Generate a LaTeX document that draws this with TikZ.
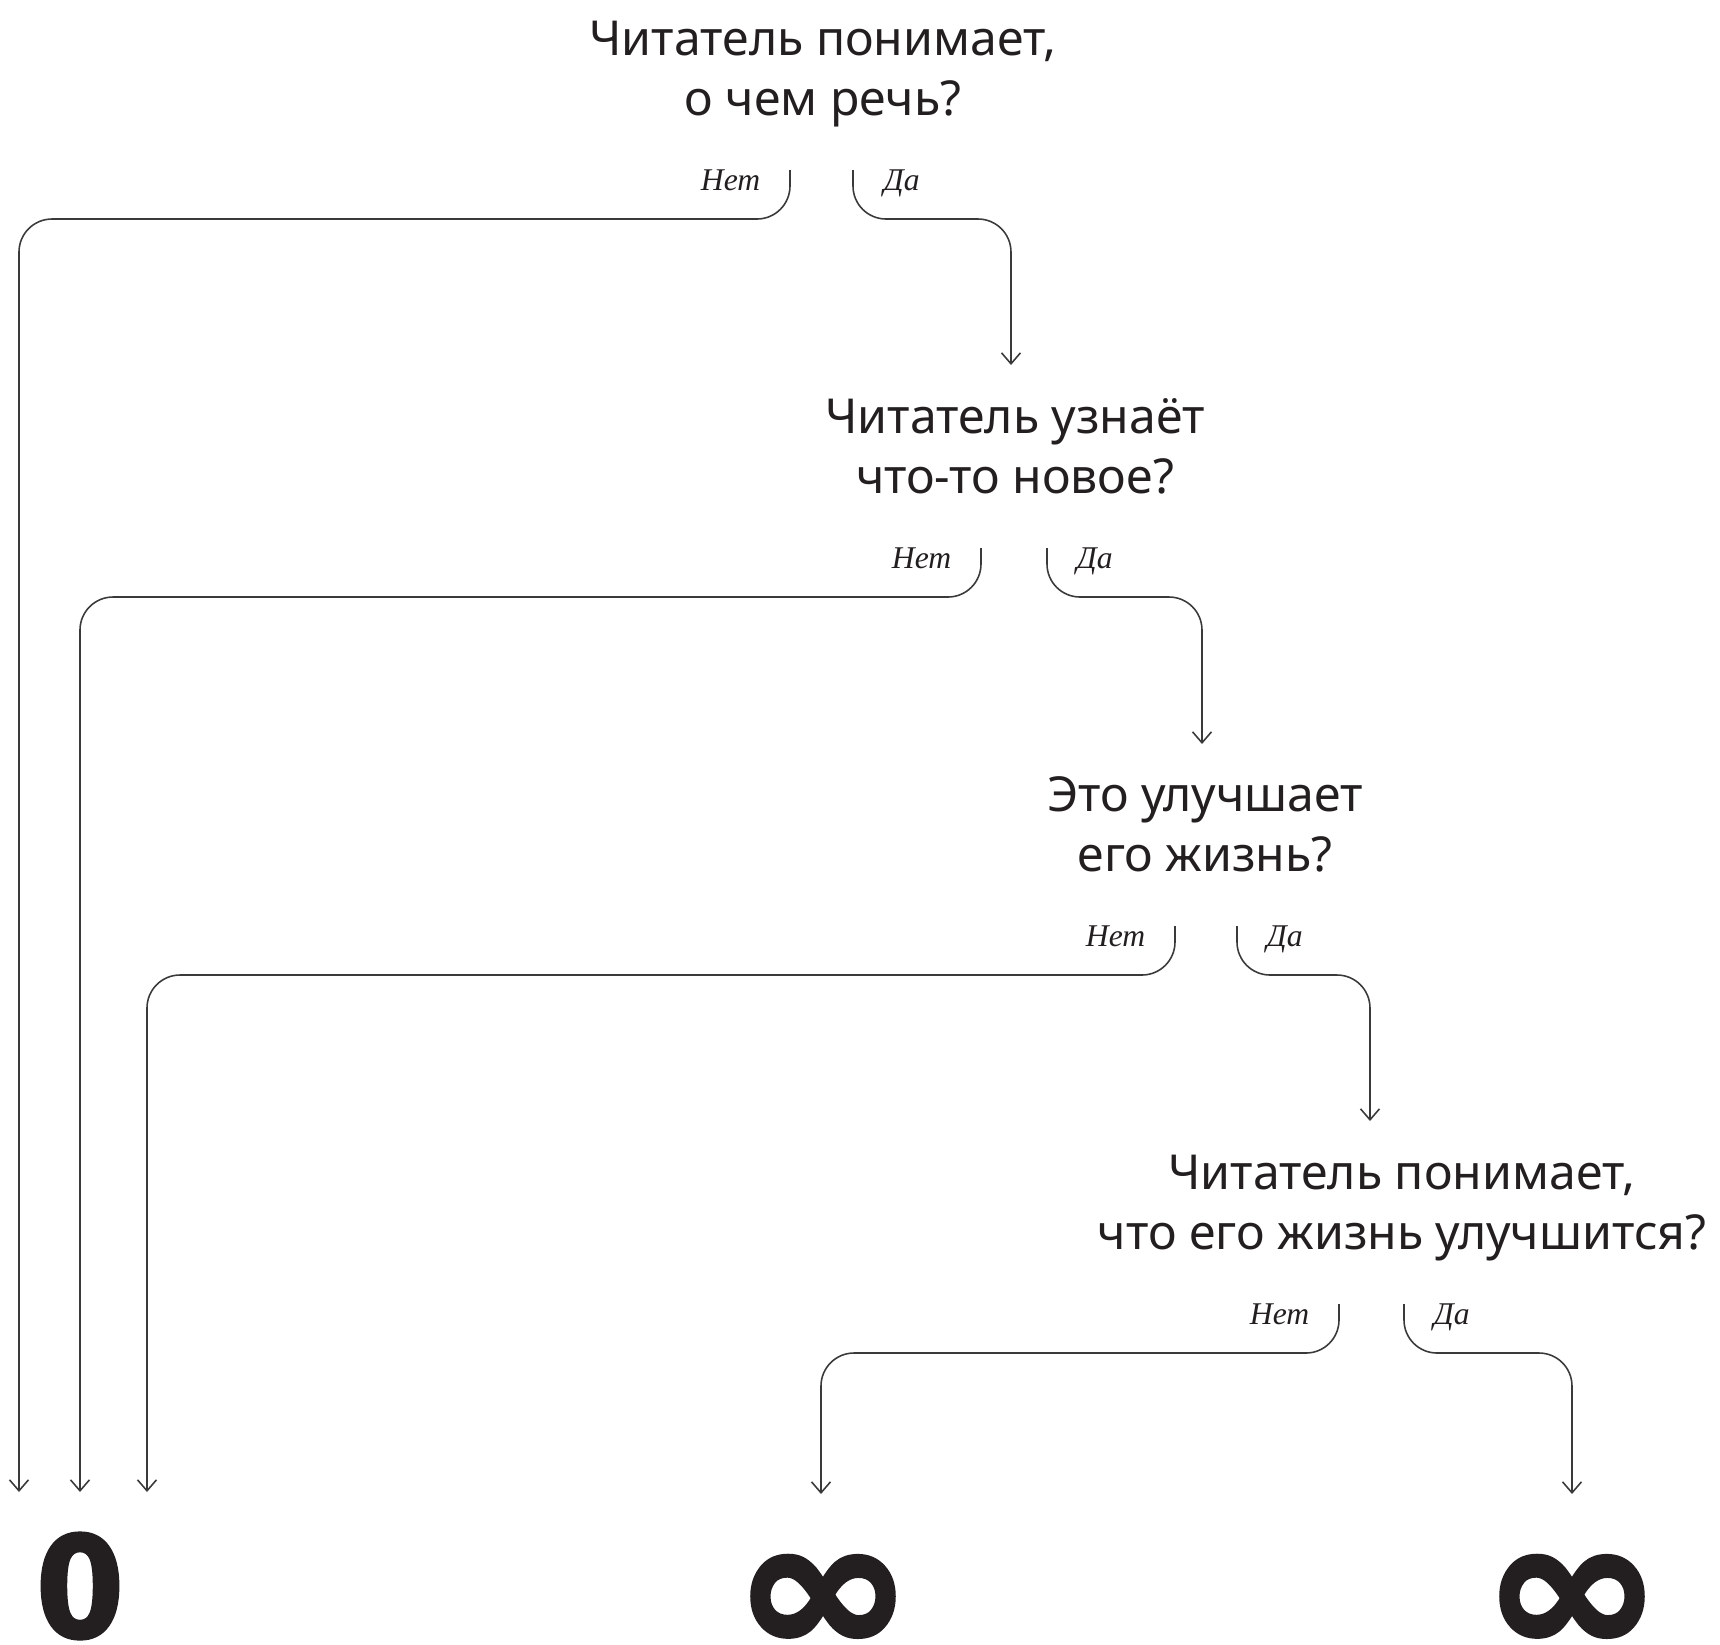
\documentclass[tikz,border=0pt]{standalone}
\usepackage{fontspec}
\setmainfont{Noto Sans}
\newfontfamily\answerfont{Liberation Serif}
\newfontfamily\zerofont[FakeBold=2, FakeStretch=0.9]{DejaVu Sans Bold}
\newfontfamily\infinityfont[FakeBold=2.5, FakeStretch=1.12]{DejaVu Sans Bold}
\usetikzlibrary{arrows.meta, positioning}

\definecolor{ink}{HTML}{231F20}
\definecolor{wire}{HTML}{3A3A3A}

\tikzset{
  question/.style={align=center, text=ink, inner sep=0pt, font=\fontsize{13.7}{17}\selectfont},
  answer/.style={text=ink, inner sep=0pt, font=\answerfont\itshape\fontsize{9}{10}\selectfont},
  result/.style={text=ink, inner sep=0pt, font=\zerofont\fontsize{40}{40}\selectfont},
  bigresult/.style={text=ink, inner sep=0pt, font=\infinityfont\fontsize{55}{55}\selectfont},
  flow/.style={draw=wire, line width=0.45pt, rounded corners=0.33cm,
    -{Straight Barb[length=1.1mm, width=1.9mm]}},
}

\begin{document}
\begin{tikzpicture}[x=0.01cm, y=-0.01cm]
  \useasboundingbox (0,0) rectangle (1720,1644);

  % questions
  \node[question] (q1) at (823,74) {Читатель понимает,\\о чем речь?};
  \node[question] (q2) at (1015,446) {Читатель узнаёт\\что-то новое?};
  \node[question] (q3) at (1205,824) {Это улучшает\\его жизнь?};
  \node[question] (q4) at (1402,1208) {Читатель понимает,\\что его жизнь улучшится?};

  % results
  \node[result] (r0) at (80,1586) {0};
  \node[bigresult] (r1) at (823,1605) {∞};
  \node[bigresult] (r2) at (1572,1605) {∞};

  % branch starts
  \coordinate (q1n) at (790,170);   \coordinate (q1y) at (853,170);
  \coordinate (q2n) at (981,548);   \coordinate (q2y) at (1047,548);
  \coordinate (q3n) at (1175,926);  \coordinate (q3y) at (1237,926);
  \coordinate (q4n) at (1339,1304); \coordinate (q4y) at (1404,1304);

  % arrow ends
  \coordinate (q2in) at (1011,365);
  \coordinate (q3in) at (1202,744);
  \coordinate (q4in) at (1370,1121);
  \coordinate (r0a) at (19,1492);
  \coordinate (r0b) at (80,1492);
  \coordinate (r0c) at (147,1492);
  \coordinate (r1in) at (821,1494);
  \coordinate (r2in) at (1572,1494);

  % connectors
  \draw[flow] (q1n) -- ++(0,49) -| (r0a);
  \draw[flow] (q1y) -- ++(0,49) -| (q2in);
  \draw[flow] (q2n) -- ++(0,49) -| (r0b);
  \draw[flow] (q2y) -- ++(0,49) -| (q3in);
  \draw[flow] (q3n) -- ++(0,49) -| (r0c);
  \draw[flow] (q3y) -- ++(0,49) -| (q4in);
  \draw[flow] (q4n) -- ++(0,49) -| (r1in);
  \draw[flow] (q4y) -- ++(0,49) -| (r2in);

  % answer labels
  \node[answer, anchor=base east] (q1no) at (761,190) {Нет};
  \node[answer, anchor=base west] (q1yes) at (883,190) {Да};
  \node[answer, anchor=base east] (q2no) at (952,568) {Нет};
  \node[answer, anchor=base west] (q2yes) at (1076,568) {Да};
  \node[answer, anchor=base east] (q3no) at (1146,946) {Нет};
  \node[answer, anchor=base west] (q3yes) at (1266,946) {Да};
  \node[answer, anchor=base east] (q4no) at (1310,1324) {Нет};
  \node[answer, anchor=base west] (q4yes) at (1433,1324) {Да};
\end{tikzpicture}
\end{document}
